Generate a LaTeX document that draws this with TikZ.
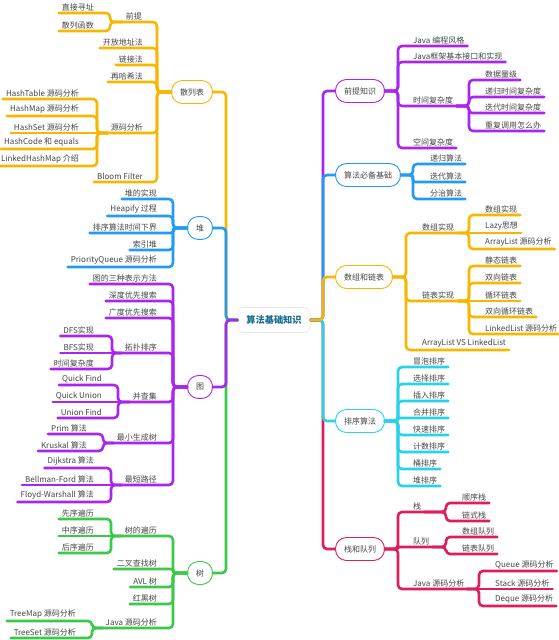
\documentclass[tikz,border=0pt]{standalone}
\usepackage{fontspec}
\setmainfont{Noto Sans CJK SC}
\definecolor{cY}{RGB}{247,183,0}
\definecolor{cB}{RGB}{35,155,242}
\definecolor{cP}{RGB}{168,38,238}
\definecolor{cC}{RGB}{42,210,232}
\definecolor{cR}{RGB}{222,28,96}
\definecolor{cGr}{RGB}{60,200,72}
\definecolor{cT}{RGB}{24,108,140}
\definecolor{tx}{RGB}{70,70,70}
\definecolor{cGy}{RGB}{232,232,232}
\newcommand\CL[5][4pt]{\draw[con=#2,rounded corners=#1] (#3) -- (#3 -| #4) -- (#4 |- #5.south) -- (#5.south west);}
\newcommand\CR[5][4pt]{\draw[con=#2,rounded corners=#1] (#3) -- (#3 -| #4) -- (#4 |- #5.south) -- (#5.south east);}
\newcommand\SL[3]{\draw[con=#1] (#2) -- (#3.south west);}
\newcommand\SR[3]{\draw[con=#1] (#2) -- (#3.south east);}
\begin{document}
\begin{tikzpicture}[x=1pt,y=-1pt,
  con/.style={draw=#1,line width=2.6pt,line cap=round,line join=round},
  box/.style={draw=#1,line width=0.9pt,fill=white,rounded corners=11pt,minimum height=23pt,inner xsep=8.5pt,inner ysep=0pt,font=\fontsize{8}{9}\selectfont,text=tx},
  lf/.style={inner xsep=3pt,inner ysep=2pt,font=\fontsize{8}{9}\selectfont,text=tx}]
\fill[white] (0,0) rectangle (559,640);
\useasboundingbox (0,0) rectangle (559,640);

% ---------- coordinates of trunks and brackets ----------
\coordinate (tL) at (226,0);
\coordinate (tR) at (323,0);
\coordinate (bH) at (157,0);
\coordinate (bQt) at (110,0);
\coordinate (bYm) at (97,0);
\coordinate (bHp) at (173,0);
\coordinate (bG) at (173,0);
\coordinate (bTp) at (112,0);
\coordinate (bUf) at (118,0);
\coordinate (bMst) at (103,0);
\coordinate (bSp) at (111,0);
\coordinate (bT) at (173,0);
\coordinate (bTr) at (111,0);
\coordinate (bTj) at (92,0);
\coordinate (bQ) at (398,0);
\coordinate (bSj) at (469,0);
\coordinate (bSf) at (413,0);
\coordinate (bSz) at (406,0);
\coordinate (bSzs) at (469,0);
\coordinate (bLb) at (469,0);
\coordinate (bPx) at (398,0);
\coordinate (bZd) at (398,0);
\coordinate (bZ) at (446,0);
\coordinate (bDl) at (446,0);
\coordinate (bJq) at (479,0);

% ---------- main nodes ----------
\node[draw=cGy,line width=0.6pt,fill=white,rounded corners=5pt,minimum width=72pt,minimum height=25pt,font=\fontsize{9.2}{10}\selectfont\bfseries,text=cT] (ctr) at (274,320) {算法基础知识};
\node[box=cY] (hash) at (192,92) {散列表};
\node[box=cB] (heap) at (200,228) {堆};
\node[box=cP] (graph) at (200,387) {图};
\node[box=cGr] (tree) at (200,573) {树};
\node[box=cP] (pre) at (360,91) {前提知识};
\node[box=cB] (basic) at (368,175) {算法必备基础};
\node[box=cY] (arr) at (364,277) {数组和链表};
\node[box=cC] (sort) at (360,421) {排序算法};
\node[box=cR] (sq) at (360,549) {栈和队列};

% ---------- left leaves ----------
\node[lf,anchor=south east] (qt) at (145,22) {前提};
\node[lf,anchor=south east] (d1) at (97,13) {直接寻址};
\node[lf,anchor=south east] (d2) at (97,31) {散列函数};
\node[lf,anchor=south east] (kf) at (146,48) {开放地址法};
\node[lf,anchor=south east] (lj) at (146,65) {链接法};
\node[lf,anchor=south east] (zh) at (146,82) {再哈希法};
\node[lf,anchor=south east] (ym) at (146,133) {源码分析};
\node[lf,anchor=south east] (h1) at (82,99) {HashTable 源码分析};
\node[lf,anchor=south east] (h2) at (82,116) {HashMap 源码分析};
\node[lf,anchor=south east] (h3) at (82,133) {HashSet 源码分析};
\node[lf,anchor=south east] (h4) at (82,149) {HashCode 和 equals};
\node[lf,anchor=south east] (h5) at (82,166) {LinkedHashMap 介绍};
\node[lf,anchor=south east] (bf) at (146,182) {Bloom Filter};

\node[lf,anchor=south east] (hp1) at (160,199) {堆的实现};
\node[lf,anchor=south east] (hp2) at (160,216) {Heapify 过程};
\node[lf,anchor=south east] (hp3) at (160,233) {排序算法时间下界};
\node[lf,anchor=south east] (hp4) at (160,250) {索引堆};
\node[lf,anchor=south east] (hp5) at (160,267) {PriorityQueue 源码分析};

\node[lf,anchor=south east] (g1) at (160,284) {图的三种表示方法};
\node[lf,anchor=south east] (g2) at (160,301) {深度优先搜索};
\node[lf,anchor=south east] (g3) at (160,318) {广度优先搜索};
\node[lf,anchor=south east] (tp) at (160,353) {拓扑排序};
\node[lf,anchor=south east] (tp1) at (97,336) {DFS实现};
\node[lf,anchor=south east] (tp2) at (97,353) {BFS实现};
\node[lf,anchor=south east] (tp3) at (97,369) {时间复杂度};
\node[lf,anchor=south east] (uf) at (160,402) {并查集};
\node[lf,anchor=south east] (uf1) at (105,385) {Quick Find};
\node[lf,anchor=south east] (uf2) at (105,402) {Quick Union};
\node[lf,anchor=south east] (uf3) at (105,418) {Union Find};
\node[lf,anchor=south east] (mst) at (160,443) {最小生成树};
\node[lf,anchor=south east] (mst1) at (90,434) {Prim 算法};
\node[lf,anchor=south east] (mst2) at (90,451) {Kruskal 算法};
\node[lf,anchor=south east] (sp) at (160,485) {最短路径};
\node[lf,anchor=south east] (sp1) at (97,468) {Dijkstra 算法};
\node[lf,anchor=south east] (sp2) at (97,485) {Bellman-Ford 算法};
\node[lf,anchor=south east] (sp3) at (97,502) {Floyd-Warshall 算法};

\node[lf,anchor=south east] (tr) at (160,536) {树的遍历};
\node[lf,anchor=south east] (tr1) at (97,519) {先序遍历};
\node[lf,anchor=south east] (tr2) at (97,536) {中序遍历};
\node[lf,anchor=south east] (tr3) at (97,553) {后序遍历};
\node[lf,anchor=south east] (bst) at (160,569) {二叉查找树};
\node[lf,anchor=south east] (avl) at (160,587) {AVL 树};
\node[lf,anchor=south east] (rb) at (160,604) {红黑树};
\node[lf,anchor=south east] (tj) at (160,628) {Java 源码分析};
\node[lf,anchor=south east] (tj1) at (79,621) {TreeMap 源码分析};
\node[lf,anchor=south east] (tj2) at (79,638) {TreeSet 源码分析};

% ---------- right leaves ----------
\node[lf,anchor=south west] (q1) at (410,46) {Java 编程风格};
\node[lf,anchor=south west] (q2) at (410,62) {Java框架基本接口和实现};
\node[lf,anchor=south west] (sj) at (410,106) {时间复杂度};
\node[lf,anchor=south west] (sj1) at (482,80) {数据量级};
\node[lf,anchor=south west] (sj2) at (482,97) {递归时间复杂度};
\node[lf,anchor=south west] (sj3) at (482,113) {迭代时间复杂度};
\node[lf,anchor=south west] (sj4) at (482,131) {重复调用怎么办};
\node[lf,anchor=south west] (kj) at (410,148) {空间复杂度};

\node[lf,anchor=south west] (sf1) at (427,164) {递归算法};
\node[lf,anchor=south west] (sf2) at (427,182) {迭代算法};
\node[lf,anchor=south west] (sf3) at (427,199) {分治算法};

\node[lf,anchor=south west] (sz) at (419,233) {数组实现};
\node[lf,anchor=south west] (sz1) at (482,215) {数组实现};
\node[lf,anchor=south west] (sz2) at (482,233) {Lazy思想};
\node[lf,anchor=south west] (sz3) at (482,249) {ArrayList 源码分析};
\node[lf,anchor=south west] (lb) at (419,301) {链表实现};
\node[lf,anchor=south west] (lb1) at (482,266) {静态链表};
\node[lf,anchor=south west] (lb2) at (482,283) {双向链表};
\node[lf,anchor=south west] (lb3) at (482,301) {循环链表};
\node[lf,anchor=south west] (lb4) at (482,317) {双向循环链表};
\node[lf,anchor=south west] (lb5) at (482,334) {LinkedList 源码分析};
\node[lf,anchor=south west] (vs) at (419,350) {ArrayList VS LinkedList};

\node[lf,anchor=south west] (px1) at (410,367) {冒泡排序};
\node[lf,anchor=south west] (px2) at (410,384) {选择排序};
\node[lf,anchor=south west] (px3) at (410,401) {插入排序};
\node[lf,anchor=south west] (px4) at (410,418) {合并排序};
\node[lf,anchor=south west] (px5) at (410,435) {快速排序};
\node[lf,anchor=south west] (px6) at (410,452) {计数排序};
\node[lf,anchor=south west] (px7) at (410,469) {桶排序};
\node[lf,anchor=south west] (px8) at (410,486) {堆排序};

\node[lf,anchor=south west] (z) at (410,512) {栈};
\node[lf,anchor=south west] (z1) at (459,503) {顺序栈};
\node[lf,anchor=south west] (z2) at (459,521) {链式栈};
\node[lf,anchor=south west] (dl) at (410,547) {队列};
\node[lf,anchor=south west] (dl1) at (459,537) {数组队列};
\node[lf,anchor=south west] (dl2) at (459,554) {链表队列};
\node[lf,anchor=south west] (jq) at (410,589) {Java 源码分析};
\node[lf,anchor=south west] (jq1) at (492,571) {Queue 源码分析};
\node[lf,anchor=south west] (jq2) at (492,589) {Stack 源码分析};
\node[lf,anchor=south west] (jq3) at (492,606) {Deque 源码分析};

% ---------- main connectors (far first) ----------
\draw[con=cY,rounded corners=4pt] (ctr.west) -- (ctr.west -| tL) -- (tL |- hash.east) -- (hash.east);
\draw[con=cB,rounded corners=4pt] (ctr.west) -- (ctr.west -| tL) -- (tL |- heap.east) -- (heap.east);
\draw[con=cGr,rounded corners=4pt] (ctr.west) -- (ctr.west -| tL) -- (tL |- tree.east) -- (tree.east);
\draw[con=cP,rounded corners=4pt] (ctr.west) -- (ctr.west -| tL) -- (tL |- graph.east) -- (graph.east);
\draw[con=cP,rounded corners=4pt] (ctr.east) -- (ctr.east -| tR) -- (tR |- pre.west) -- (pre.west);
\draw[con=cB,rounded corners=4pt] (ctr.east) -- (ctr.east -| tR) -- (tR |- basic.west) -- (basic.west);
\draw[con=cR,rounded corners=4pt] (ctr.east) -- (ctr.east -| tR) -- (tR |- sq.west) -- (sq.west);
\draw[con=cC,rounded corners=4pt] (ctr.east) -- (ctr.east -| tR) -- (tR |- sort.west) -- (sort.west);
\draw[con=cY,rounded corners=4pt] (ctr.east) -- (ctr.east -| tR) -- (tR |- arr.west) -- (arr.west);

% ---------- hash ----------
\CL{cY}{hash.west}{bH}{qt}
\CL{cY}{hash.west}{bH}{kf}
\CL{cY}{hash.west}{bH}{lj}
\CL{cY}{hash.west}{bH}{zh}
\CL{cY}{hash.west}{bH}{ym}
\CL{cY}{hash.west}{bH}{bf}
\CL{cY}{qt.south west}{bQt}{d1}
\CL{cY}{qt.south west}{bQt}{d2}
\CL{cY}{ym.south west}{bYm}{h1}
\CL{cY}{ym.south west}{bYm}{h2}
\SL{cY}{ym.south west}{h3}
\CL{cY}{ym.south west}{bYm}{h4}
\CL{cY}{ym.south west}{bYm}{h5}

% ---------- heap ----------
\CL{cB}{heap.west}{bHp}{hp1}
\CL{cB}{heap.west}{bHp}{hp2}
\CL[1.5pt]{cB}{heap.west}{bHp}{hp3}
\CL{cB}{heap.west}{bHp}{hp4}
\CL{cB}{heap.west}{bHp}{hp5}

% ---------- graph ----------
\CL{cP}{graph.west}{bG}{g1}
\CL{cP}{graph.west}{bG}{g2}
\CL{cP}{graph.west}{bG}{g3}
\CL{cP}{graph.west}{bG}{tp}
\CL{cP}{graph.west}{bG}{uf}
\CL{cP}{graph.west}{bG}{mst}
\CL{cP}{graph.west}{bG}{sp}
\CL{cP}{tp.south west}{bTp}{tp1}
\SL{cP}{tp.south west}{tp2}
\CL{cP}{tp.south west}{bTp}{tp3}
\CL{cP}{uf.south west}{bUf}{uf1}
\SL{cP}{uf.south west}{uf2}
\CL{cP}{uf.south west}{bUf}{uf3}
\CL{cP}{mst.south west}{bMst}{mst1}
\CL{cP}{mst.south west}{bMst}{mst2}
\CL{cP}{sp.south west}{bSp}{sp1}
\SL{cP}{sp.south west}{sp2}
\CL{cP}{sp.south west}{bSp}{sp3}

% ---------- tree ----------
\CL{cGr}{tree.west}{bT}{tr}
\CL[1.5pt]{cGr}{tree.west}{bT}{bst}
\CL{cGr}{tree.west}{bT}{avl}
\CL{cGr}{tree.west}{bT}{rb}
\CL{cGr}{tree.west}{bT}{tj}
\CL{cGr}{tr.south west}{bTr}{tr1}
\SL{cGr}{tr.south west}{tr2}
\CL{cGr}{tr.south west}{bTr}{tr3}
\CL{cGr}{tj.south west}{bTj}{tj1}
\CL{cGr}{tj.south west}{bTj}{tj2}

% ---------- pre ----------
\CR{cP}{pre.east}{bQ}{q1}
\CR{cP}{pre.east}{bQ}{q2}
\CR{cP}{pre.east}{bQ}{sj}
\CR{cP}{pre.east}{bQ}{kj}
\CR{cP}{sj.south east}{bSj}{sj1}
\CR{cP}{sj.south east}{bSj}{sj2}
\CR[3pt]{cP}{sj.south east}{bSj}{sj3}
\CR{cP}{sj.south east}{bSj}{sj4}

% ---------- basic ----------
\CR{cB}{basic.east}{bSf}{sf1}
\CR[2pt]{cB}{basic.east}{bSf}{sf2}
\CR{cB}{basic.east}{bSf}{sf3}

% ---------- arr ----------
\CR{cY}{arr.east}{bSz}{sz}
\CR{cY}{arr.east}{bSz}{lb}
\CR{cY}{arr.east}{bSz}{vs}
\CR{cY}{sz.south east}{bSzs}{sz1}
\SR{cY}{sz.south east}{sz2}
\CR{cY}{sz.south east}{bSzs}{sz3}
\CR{cY}{lb.south east}{bLb}{lb1}
\CR{cY}{lb.south east}{bLb}{lb2}
\SR{cY}{lb.south east}{lb3}
\CR{cY}{lb.south east}{bLb}{lb4}
\CR{cY}{lb.south east}{bLb}{lb5}

% ---------- sort ----------
\CR{cC}{sort.east}{bPx}{px1}
\CR{cC}{sort.east}{bPx}{px2}
\CR{cC}{sort.east}{bPx}{px3}
\CR[1.2pt]{cC}{sort.east}{bPx}{px4}
\CR{cC}{sort.east}{bPx}{px5}
\CR{cC}{sort.east}{bPx}{px6}
\CR{cC}{sort.east}{bPx}{px7}
\CR{cC}{sort.east}{bPx}{px8}

% ---------- stack & queue ----------
\CR{cR}{sq.east}{bZd}{z}
\CR[1pt]{cR}{sq.east}{bZd}{dl}
\CR{cR}{sq.east}{bZd}{jq}
\CR{cR}{z.south east}{bZ}{z1}
\CR{cR}{z.south east}{bZ}{z2}
\CR{cR}{dl.south east}{bDl}{dl1}
\CR{cR}{dl.south east}{bDl}{dl2}
\CR{cR}{jq.south east}{bJq}{jq1}
\SR{cR}{jq.south east}{jq2}
\CR{cR}{jq.south east}{bJq}{jq3}
\end{tikzpicture}
\end{document}
